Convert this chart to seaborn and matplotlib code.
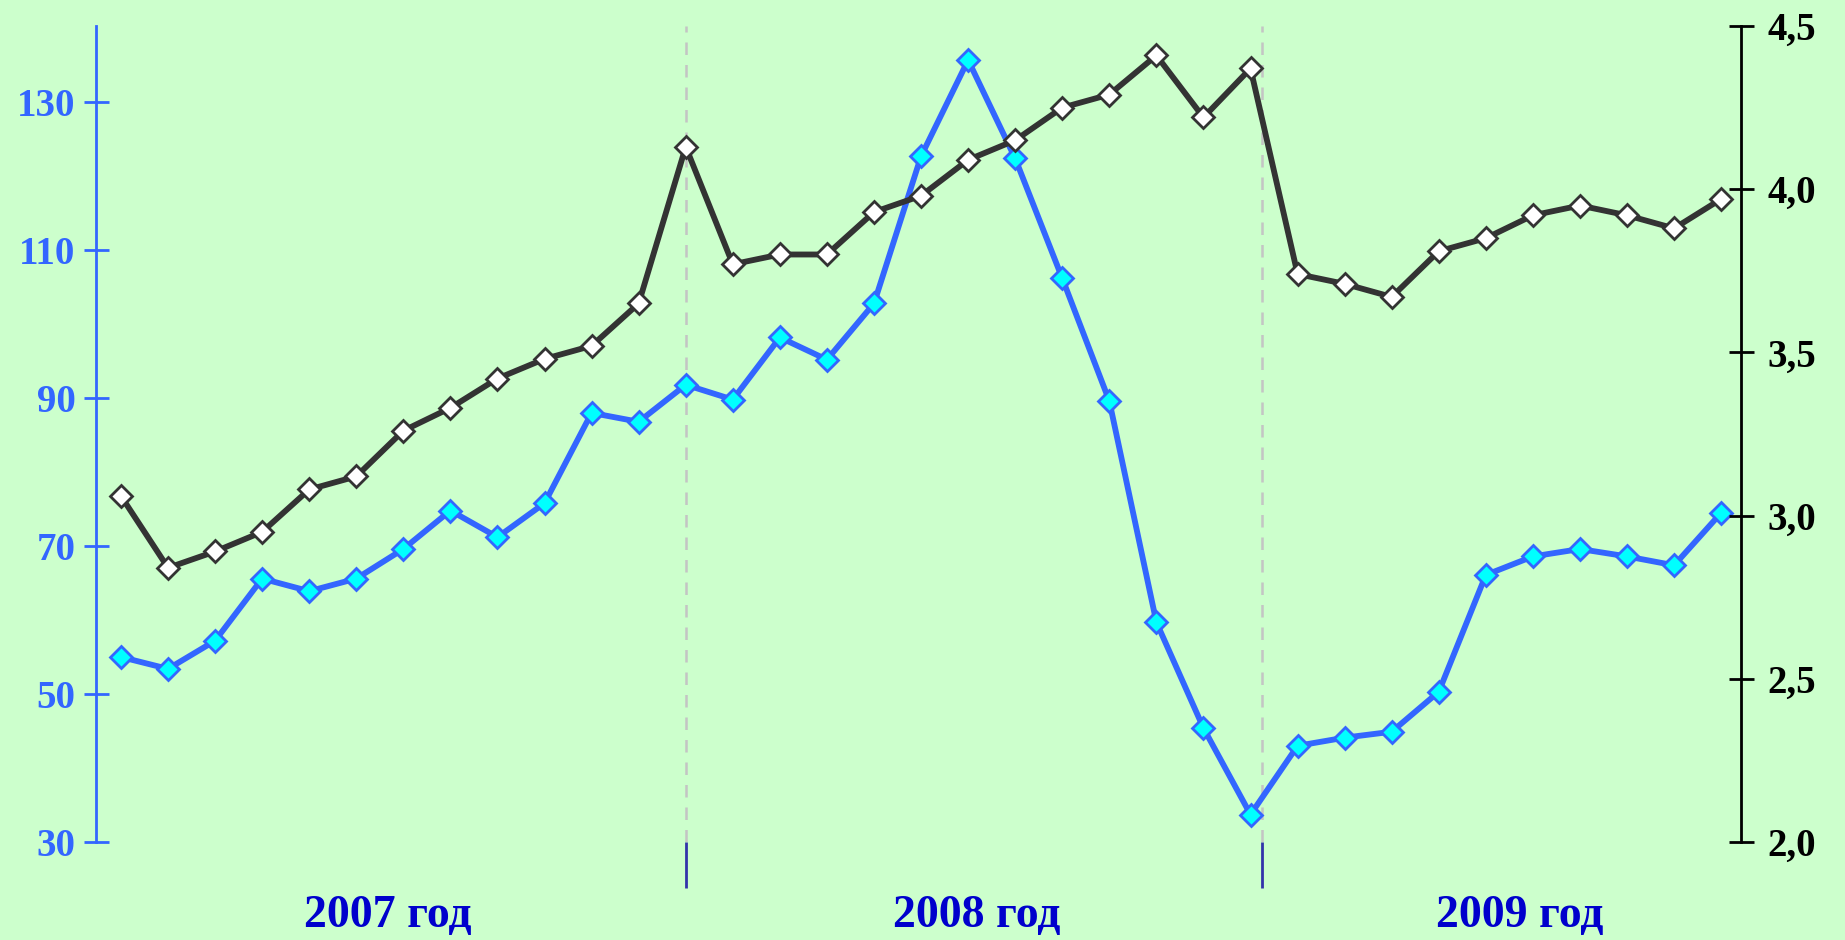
import matplotlib
matplotlib.use("Agg")

import matplotlib.pyplot as plt
import matplotlib.transforms as mtransforms
import pandas as pd
import seaborn as sns

# ==========================================================
# Data (monthly, Jan 2007 - Nov 2009)
# ==========================================================

BLUE_VALUES = [
    55.0, 53.4, 57.2, 65.6, 63.9, 65.6, 69.6, 74.8, 71.2, 75.8, 88.0, 86.8,
    91.8, 89.8, 98.2, 95.2, 102.8, 122.7, 135.7, 122.4, 106.2, 89.6, 59.7, 45.4,
    33.7, 43.0, 44.1, 44.9, 50.3, 66.1, 68.6, 69.6, 68.6, 67.4, 74.5,
]

BLACK_VALUES = [
    3.06, 2.84, 2.89, 2.95, 3.08, 3.12, 3.26, 3.33, 3.42, 3.48, 3.52, 3.65,
    4.13, 3.77, 3.80, 3.80, 3.93, 3.98, 4.09, 4.15, 4.25, 4.29, 4.41, 4.22,
    4.37, 3.74, 3.71, 3.67, 3.81, 3.85, 3.92, 3.95, 3.92, 3.88, 3.97,
]

YEAR_LABELS = ["2007 год", "2008 год", "2009 год"]
YEAR_CENTERS = [5.67, 18.18, 29.73]
YEAR_BREAKS = [12.0, 24.25]

LEFT_TICKS = [30, 50, 70, 90, 110, 130]
RIGHT_TICKS = [2.0, 2.5, 3.0, 3.5, 4.0, 4.5]

# ==========================================================
# Style
# ==========================================================

BG = "#CCFFCC"
BLUE = "#3366FF"
DARK = "#333333"
YEAR_COLOR = "#0000CC"

sns.set_style("white")
plt.rcParams["font.family"] = ["Liberation Serif", "DejaVu Serif"]

df = pd.DataFrame({
    "month": range(len(BLUE_VALUES)),
    "blue": BLUE_VALUES,
    "black": BLACK_VALUES,
})

fig = plt.figure(figsize=(18.45, 9.4), dpi=100)
fig.patch.set_facecolor(BG)

ax = fig.add_axes([0.0523, 0.1043, 0.8913, 0.868])
ax.set_facecolor(BG)
ax2 = ax.twinx()

# ----------------------------------------------------------
# Year separators
# ----------------------------------------------------------

for xb in YEAR_BREAKS:
    ax.axvline(xb, color="#C4C4C4", lw=1.8, ls=(0, (5, 4)), zorder=0)

# ----------------------------------------------------------
# Series
# ----------------------------------------------------------

sns.lineplot(
    data=df, x="month", y="blue", ax=ax,
    color=BLUE, linewidth=4.2, marker="D", markersize=11,
    markerfacecolor="#00FFFF", markeredgecolor=BLUE, markeredgewidth=2,
    zorder=3
)

sns.lineplot(
    data=df, x="month", y="black", ax=ax2,
    color=DARK, linewidth=4.2, marker="D", markersize=11,
    markerfacecolor="white", markeredgecolor=DARK, markeredgewidth=2,
    zorder=3
)

# ----------------------------------------------------------
# Axes
# ----------------------------------------------------------

ax.set_xlim(-0.52, 34.42)
ax.set_ylim(30, 140.3)
ax2.set_ylim(2.0, 4.5)

ax.set_xlabel("")
ax.set_ylabel("")
ax2.set_ylabel("")

for a in (ax, ax2):
    for s in ("top", "bottom"):
        a.spines[s].set_visible(False)

ax.spines["right"].set_visible(False)
ax.spines["left"].set_color(BLUE)
ax.spines["left"].set_linewidth(2)
ax2.spines["left"].set_visible(False)
ax2.spines["right"].set_color("black")
ax2.spines["right"].set_linewidth(2)

ax.set_yticks(LEFT_TICKS)
ax.set_yticklabels([str(t) for t in LEFT_TICKS])
ax.tick_params(
    axis="y", left=True, direction="inout", length=18, width=2, color=BLUE,
    labelcolor=BLUE, labelsize=28, pad=6
)
for lbl in ax.get_yticklabels():
    lbl.set_fontweight("bold")

ax2.set_yticks(RIGHT_TICKS)
ax2.set_yticklabels([f"{t:.1f}".replace(".", ",") for t in RIGHT_TICKS])
ax2.tick_params(
    axis="y", right=True, direction="inout", length=18, width=2, color="black",
    labelcolor="black", labelsize=28, pad=10
)
for lbl in ax2.get_yticklabels():
    lbl.set_fontweight("bold")

# year separator ticks below the plot and year labels
ax.set_xticks(YEAR_BREAKS)
ax.set_xticklabels([])
ax.tick_params(
    axis="x", bottom=True, direction="out", length=33, width=2,
    color="#3333AA", pad=0
)
trans = mtransforms.blended_transform_factory(ax.transData, ax.transAxes)
for xc, txt in zip(YEAR_CENTERS, YEAR_LABELS):
    ax.text(
        xc, -0.091, txt, transform=trans, ha="center", va="center",
        fontsize=33, fontweight="bold", color=YEAR_COLOR
    )

fig.savefig("out.png", dpi=100, facecolor=BG)
